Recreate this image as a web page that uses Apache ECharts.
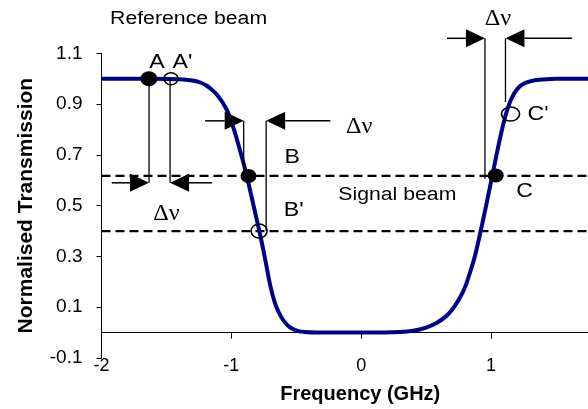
<!DOCTYPE html>
<html><head><meta charset="utf-8">
<script src="https://cdn.jsdelivr.net/npm/echarts@6/dist/echarts.min.js"></script>
<style>html,body{margin:0;padding:0;background:#fff}#c{width:588px;height:409px}</style>
</head><body><div id="c"></div>
<script>
// ---- data ----
const xTicks = [-2, -1, 0, 1];
const yTicks = [-0.1, 0.1, 0.3, 0.5, 0.7, 0.9, 1.1];
const freq = [-2.0, -1.6, -1.4, -1.3, -1.24, -1.19, -1.14, -1.10, -1.06, -1.02, -0.98, -0.94, -0.90, -0.86, -0.82, -0.78, -0.74, -0.70, -0.66, -0.62, -0.58, -0.54, -0.49, -0.43, -0.35, 0.0, 0.30, 0.40, 0.50, 0.58, 0.65, 0.70, 0.75, 0.80, 0.84, 0.88, 0.92, 0.96, 1.00, 1.04, 1.08, 1.12, 1.16, 1.20, 1.25, 1.32, 1.40, 1.50, 1.75];
const trans = [1.0, 1.0, 0.998, 0.993, 0.985, 0.972, 0.952, 0.93, 0.90, 0.86, 0.80, 0.73, 0.655, 0.57, 0.48, 0.39, 0.29, 0.185, 0.11, 0.065, 0.036, 0.018, 0.007, 0.002, 0.0, 0.0, 0.002, 0.007, 0.02, 0.038, 0.063, 0.09, 0.128, 0.18, 0.24, 0.31, 0.40, 0.495, 0.595, 0.695, 0.79, 0.87, 0.925, 0.958, 0.98, 0.992, 0.997, 1.0, 1.0];
const refLevel = 0.617;
const sigLevel = 0.40;
const filledPts = [[-1.635, 1.0], [-0.868, 0.617], [1.036, 0.619]];
const openPts = [[-1.465, 1.0], [-0.786, 0.40], [1.15, 0.861]];
// annotation texts: [text, x, y]
const sansNotes = [['Reference beam', -1.934, 1.233], ['Signal beam', 0.278, 0.540]];
const letterNotes = [['A', -1.572, 1.065], ["A'", -1.376, 1.065], ['B', -0.531, 0.689], ["B'", -0.520, 0.482], ['C', 1.258, 0.556], ["C'", 1.362, 0.861]];
const dnuNotes = [['\u0394\u03bd', -1.499, 0.468], ['\u0394\u03bd', -0.015, 0.809], ['\u0394\u03bd', 1.053, 1.237]];
// guide lines: [x, yFrom, yTo]
const guides = [[-1.634, 1.0, 0.590], [-1.472, 1.0, 0.590], [-0.905, 0.834, 0.617], [-0.732, 0.834, 0.40], [0.953, 1.159, 0.606], [1.111, 1.159, 0.908]];
// arrows: [xTail, xTip, y]
const arrows = [[-1.921, -1.634, 0.590], [-1.148, -1.472, 0.590], [-1.202, -0.905, 0.834], [-0.238, -0.732, 0.834], [0.661, 0.953, 1.159], [1.625, 1.111, 1.159]];
const xMin = -2, xMax = 1.7466, yMin = -0.1, yMax = 1.1;

// ---- chart ----
const chart = echarts.init(document.getElementById('c'), null, {renderer: 'canvas'});
const FONT = 'Liberation Sans, Arial, sans-serif';
const filledSizes = [[17, 15], [16, 14], [16, 14]];
const openSizes = [[14, 12], [16, 14], [18, 14]];
const curve = freq.map((f, i) => [f, trans[i]]);
const option = {
  animation: false,
  backgroundColor: '#fff',
  grid: {left: 101.5, top: 53.3, right: 0, bottom: 45.7, containLabel: false},
  xAxis: [{
    type: 'value', min: xMin, max: xMax, position: 'bottom',
    axisLine: {show: false, onZero: false},
    axisTick: {show: false},
    splitLine: {show: false},
    axisLabel: {customValues: xTicks, fontSize: 18, fontFamily: FONT, color: '#000', margin: -1},
    name: 'Frequency (GHz)', nameLocation: 'middle', nameGap: 26,
    nameTextStyle: {fontSize: 20, fontWeight: 'bold', fontFamily: FONT, color: '#000', padding: [0, 0, 0, 31]}
  }, {
    type: 'value', min: xMin, max: xMax, position: 'bottom',
    axisLine: {show: true, onZero: true, lineStyle: {color: '#000', width: 1}},
    axisTick: {show: true, customValues: xTicks, length: 6, inside: false, lineStyle: {color: '#000', width: 1}},
    axisLabel: {show: false},
    splitLine: {show: false}
  }],
  yAxis: {
    type: 'value', min: yMin, max: yMax,
    axisLine: {show: true, onZero: false, lineStyle: {color: '#000', width: 1}},
    axisTick: {show: true, customValues: yTicks, length: 5, lineStyle: {color: '#000', width: 1}},
    axisLabel: {customValues: yTicks, formatter: v => v.toFixed(1), fontSize: 19, fontFamily: FONT, color: '#000', margin: 19},
    splitLine: {show: false},
    name: 'Normalised Transmission', nameLocation: 'middle', nameRotate: 90, nameGap: 65,
    nameTextStyle: {fontSize: 21, fontWeight: 'bold', fontFamily: FONT, color: '#000'}
  },
  series: [
    {type: 'line', data: [[xMin, refLevel], [xMax, refLevel]], showSymbol: false, silent: true, z: 2,
     lineStyle: {color: '#000', width: 2.2, type: [9, 5]}},
    {type: 'line', data: [[xMin, sigLevel], [xMax, sigLevel]], showSymbol: false, silent: true, z: 2,
     lineStyle: {color: '#000', width: 2.2, type: [9, 5]}},
    {type: 'line', data: curve, showSymbol: false, smooth: 0.3, z: 3,
     lineStyle: {color: '#000088', width: 4}},
    {type: 'scatter', data: filledPts, z: 5, symbol: 'circle',
     symbolSize: (v, p) => filledSizes[p.dataIndex], itemStyle: {color: '#000', opacity: 1}},
    {type: 'scatter', data: openPts, z: 5, symbol: 'circle',
     symbolSize: (v, p) => openSizes[p.dataIndex], itemStyle: {color: 'rgba(0,0,0,0)', borderColor: '#000', borderWidth: 1.5, opacity: 1}}
  ]
};
chart.setOption(option);

const px = (x, y) => chart.convertToPixel({xAxisIndex: 0, yAxisIndex: 0}, [x, y]);
const els = [];
guides.forEach(g => {
  const a = px(g[0], g[1]), b = px(g[0], g[2]);
  els.push({type: 'line', shape: {x1: a[0], y1: a[1], x2: b[0], y2: b[1]}, style: {stroke: '#000', lineWidth: 1.3}, z: 10});
});
arrows.forEach(ar => {
  const t = px(ar[0], ar[2]), h = px(ar[1], ar[2]);
  const dir = h[0] > t[0] ? 1 : -1;
  const L = 19, W = 9;
  els.push({type: 'line', shape: {x1: t[0], y1: t[1], x2: h[0] - dir * L, y2: h[1]}, style: {stroke: '#000', lineWidth: 1.5}, z: 10});
  els.push({type: 'polygon', shape: {points: [[h[0], h[1]], [h[0] - dir * L, h[1] - W], [h[0] - dir * L, h[1] + W]]}, style: {fill: '#000'}, z: 10});
});
sansNotes.forEach((n, i) => {
  const p = px(n[1], n[2]);
  els.push({type: 'text', x: p[0], y: p[1], scaleX: 1.18, z: 11,
    style: {text: n[0], x: 0, y: 0, fill: '#000', font: '18px ' + FONT, textAlign: i === 0 ? 'left' : 'center', textVerticalAlign: 'middle'}});
});
letterNotes.forEach(n => {
  const p = px(n[1], n[2]);
  els.push({type: 'text', x: p[0], y: p[1], scaleX: 1.1, z: 11,
    style: {text: n[0], x: 0, y: 0, fill: '#000', font: '21px ' + FONT, textAlign: 'center', textVerticalAlign: 'middle'}});
});
dnuNotes.forEach(n => {
  const p = px(n[1], n[2]);
  els.push({type: 'text', x: p[0], y: p[1], scaleX: 1.05, z: 11,
    style: {text: n[0], x: 0, y: 0, fill: '#000', font: '23px Liberation Serif, Times New Roman, serif', textAlign: 'center', textVerticalAlign: 'middle'}});
});
chart.setOption({graphic: {elements: els}});
</script>
</body></html>
